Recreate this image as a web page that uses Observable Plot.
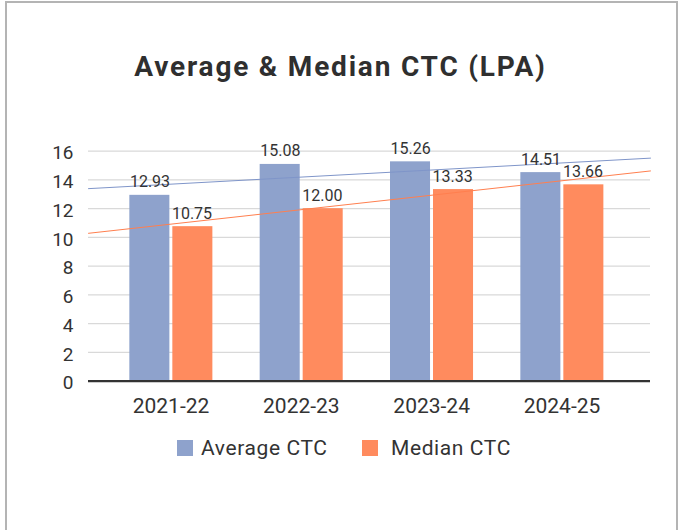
<!DOCTYPE html>
<html>
<head>
<meta charset="utf-8">
<script src="https://cdn.jsdelivr.net/npm/d3@7"></script>
<script src="https://cdn.jsdelivr.net/npm/@observablehq/plot@0.6"></script>
<style>
  html, body { margin: 0; padding: 0; background: #fff; width: 681px; height: 530px; overflow: hidden; }
  #frame { position: absolute; left: 5px; top: 1px; width: 669px; height: 600px; border: 2px solid #b4b4b4; box-sizing: content-box; }
  #title { position: absolute; left: 0; width: 681px; top: 50px; text-align: center; font-family: Roboto, sans-serif; font-weight: bold; font-size: 28px; letter-spacing: 1.8px; color: #2f2f2f; line-height: 34px; }
  #chart { position: absolute; left: 0; top: 130px; }
  #legend { position: absolute; left: 0; top: 436px; width: 681px; height: 24px; font-family: Roboto, sans-serif; font-size: 21px; letter-spacing: 0.6px; color: #333; }
  .sw { position: absolute; top: 4px; width: 16px; height: 16px; }
  .lt { position: absolute; top: 0; line-height: 24px; white-space: nowrap; }
</style>
</head>
<body>
<div id="frame"></div>
<div id="title">Average &amp; Median CTC (LPA)</div>
<div id="chart"></div>
<div id="legend"></div>
<script>
const years = ["2021-22", "2022-23", "2023-24", "2024-25"];
const avgCTC = [12.93, 15.08, 15.26, 14.51];
const medianCTC = [10.75, 12.00, 13.33, 13.66];
const seriesNames = ["Average CTC", "Median CTC"];
const seriesColors = ["#8EA2CC", "#FF8B5E"];
const trendColors = ["#7F95C9", "#FF7F4F"];
const yTicks = [0, 2, 4, 6, 8, 10, 12, 14, 16];

const W = 681, H = 290;
const xDomain = [-0.633, 3.679];

const rows = [];
years.forEach((y, i) => {
  rows.push({i, year: y, series: seriesNames[0], value: avgCTC[i], k: 0});
  rows.push({i, year: y, series: seriesNames[1], value: medianCTC[i], k: 1});
});

function fit(vals) {
  const xs = vals.map((_, i) => i);
  const mx = d3.mean(xs), my = d3.mean(vals);
  const sxy = d3.sum(xs, (x, j) => (x - mx) * (vals[j] - my));
  const sxx = d3.sum(xs, x => (x - mx) ** 2);
  const b = sxy / sxx, a = my - b * mx;
  return xDomain.map(x => ({x, y: a + b * x}));
}
const trendAvg = fit(avgCTC);
const trendMed = fit(medianCTC);

const plot = Plot.plot({
  width: W,
  height: H,
  marginLeft: 88,
  marginRight: 31,
  marginTop: 20.7,
  marginBottom: 39.3,
  style: {fontFamily: "Roboto, sans-serif", fontSize: "19px", color: "#333", background: "transparent"},
  x: {type: "linear", domain: xDomain},
  y: {domain: [0, 16]},
  marks: [
    Plot.gridY(yTicks, {stroke: "#d9d9d9", strokeOpacity: 1, strokeWidth: 1.2}),
    Plot.axisY(yTicks, {tickSize: 0, tickPadding: 15, dy: 2, fontSize: 19, fill: "#333"}),
    Plot.axisX([0, 1, 2, 3], {tickSize: 0, tickPadding: 17, tickFormat: i => years[i], fontSize: 21, fill: "#333"}),
    Plot.rectY(rows.filter(d => d.k === 0), {x1: d => d.i - 0.5, x2: d => d.i + 0.5, y: "value", fill: seriesColors[0], insetLeft: 24, insetRight: 66.3}),
    Plot.rectY(rows.filter(d => d.k === 1), {x1: d => d.i - 0.5, x2: d => d.i + 0.5, y: "value", fill: seriesColors[1], insetLeft: 67, insetRight: 23.3}),
    Plot.line(trendAvg, {x: "x", y: "y", stroke: trendColors[0], strokeWidth: 1}),
    Plot.line(trendMed, {x: "x", y: "y", stroke: trendColors[1], strokeWidth: 1}),
    Plot.ruleY([0], {stroke: "#333", strokeWidth: 2.2}),
    Plot.text(rows.filter(d => d.k === 0), {x: "i", y: "value", text: d => d.value.toFixed(2), dx: -21, dy: -8, lineAnchor: "bottom", fontSize: 16, fill: "#333"}),
    Plot.text(rows.filter(d => d.k === 1), {x: "i", y: "value", text: d => d.value.toFixed(2), dx: 21, dy: -8, lineAnchor: "bottom", fontSize: 16, fill: "#333"})
  ]
});
document.getElementById("chart").appendChild(plot);

const legend = document.getElementById("legend");
const swX = [177, 362], txX = [201, 391];
seriesNames.forEach((name, k) => {
  const s = document.createElement("div");
  s.className = "sw"; s.style.left = swX[k] + "px"; s.style.background = seriesColors[k];
  legend.appendChild(s);
  const t = document.createElement("div");
  t.className = "lt"; t.style.left = txX[k] + "px"; t.textContent = name;
  legend.appendChild(t);
});
</script>
</body>
</html>
